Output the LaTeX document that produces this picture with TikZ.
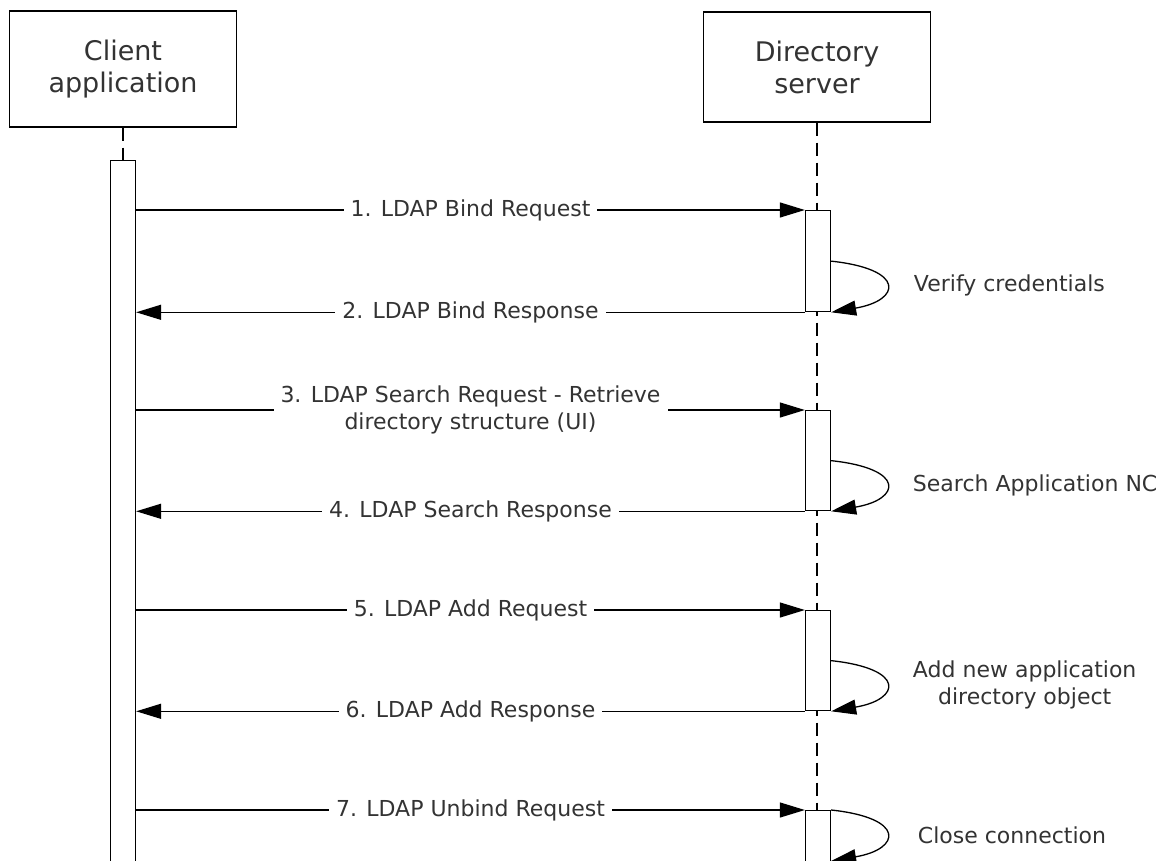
\documentclass[tikz,border=0pt]{standalone}
\usepackage{fontspec}
\setmainfont{DejaVu Sans}
\usetikzlibrary{arrows.meta,calc}
\begin{document}
\begin{tikzpicture}[x=1pt,y=-1pt, line width=1.3pt,
  head/.style={draw, minimum width=227pt, font=\fontsize{27}{32}\selectfont, align=center, inner sep=0pt, text=black!80},
  actbar/.style={draw, fill=white, minimum width=25pt, inner sep=0pt},
  msg/.style={-{Triangle[length=25pt,width=15pt]}},
  lbl/.style={fill=white, font=\fontsize{22}{27}\selectfont, inner xsep=7pt, inner ysep=1pt, align=center, text=black!80},
  note/.style={font=\fontsize{22}{27}\selectfont, anchor=west, align=center, text=black!80},
  life/.style={dash pattern=on 13pt off 7pt}]

\useasboundingbox (0,0) rectangle (1165,861);
\clip (0,0) rectangle (1165,861);

% participants
\node[head, minimum height=116pt] (cl) at (123,69) {Client\\application};
\node[head, minimum height=110pt] (sv) at (817,67) {Directory\\server};

% lifelines
\coordinate (clbot) at (123,160);
\coordinate (svbot) at (817,880);
\draw[life] (cl.south) -- (clbot);
\draw[life] (sv.south) -- (svbot);

% activation bars
\node[actbar, minimum height=730pt, anchor=north] (cb) at (clbot) {};
\node[actbar, minimum height=101pt, anchor=north] (b1) at (818,210) {};
\node[actbar, minimum height=100pt, anchor=north] (b2) at (818,410) {};
\node[actbar, minimum height=100pt, anchor=north] (b3) at (818,610) {};
\node[actbar, minimum height=80pt, anchor=north] (b4) at (818,810) {};

% messages
\draw[msg] (cb.east |- b1.north) -- node[lbl]{1. LDAP Bind Request} (b1.north west);
\draw[msg] (b1.south west) -- node[lbl]{2. LDAP Bind Response} (cb.east |- b1.south);
\draw[msg] (cb.east |- b2.north) -- node[lbl]{3. LDAP Search Request - Retrieve\\directory structure (UI)} (b2.north west);
\draw[msg] (b2.south west) -- node[lbl]{4. LDAP Search Response} (cb.east |- b2.south);
\draw[msg] (cb.east |- b3.north) -- node[lbl]{5. LDAP Add Request} (b3.north west);
\draw[msg] (b3.south west) -- node[lbl]{6. LDAP Add Response} (cb.east |- b3.south);
\draw[msg] (cb.east |- b4.north) -- node[lbl]{7. LDAP Unbind Request} (b4.north west);

% self messages
\draw[msg] (b1.east) .. controls +(75,8) and +(70,-12) .. (b1.south east);
\draw[msg] (b2.east) .. controls +(75,8) and +(70,-12) .. (b2.south east);
\draw[msg] (b3.east) .. controls +(75,8) and +(70,-12) .. (b3.south east);
\coordinate (e4) at ($(b4.north east)+(0,51)$);
\draw[msg] (b4.north east) .. controls +(75,8) and +(70,-12) .. (e4);

% notes
\node[note] (n1) at (910,285) {Verify credentials};
\node[note] (n2) at (909,485) {Search Application NC};
\node[note] (n3) at (909,685) {Add new application\\directory object};
\node[note] (n4) at (914,835) {Close connection};
\end{tikzpicture}
\end{document}
